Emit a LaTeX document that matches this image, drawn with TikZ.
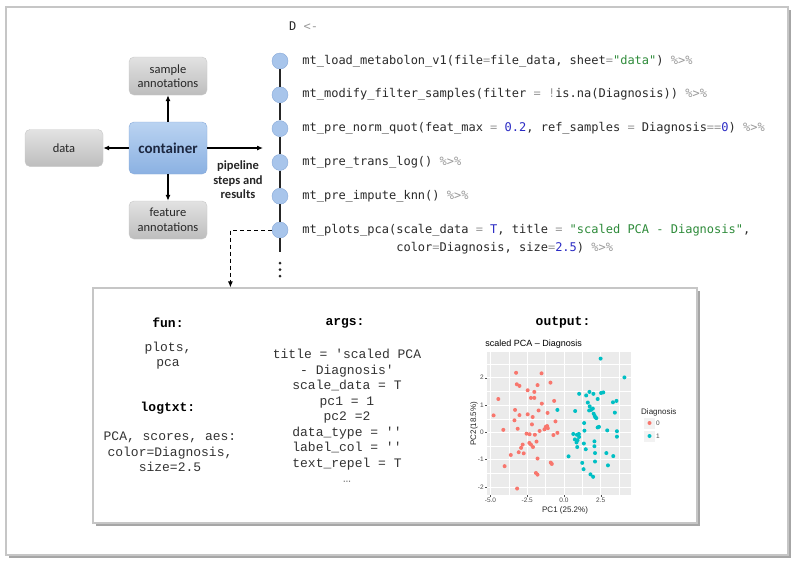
\documentclass[tikz,border=0pt]{standalone}
\usepackage{fontspec}
\setmainfont{Carlito}
\newfontfamily\codefont{DejaVu Sans Mono}
\newfontfamily\courfont{Liberation Mono}
\newfontfamily\plotfont{Liberation Sans}
\usetikzlibrary{calc,positioning,shadows,arrows.meta}

\definecolor{framegray}{HTML}{C6C6C6}
\definecolor{boxtop}{HTML}{E2E2E2}
\definecolor{boxbottom}{HTML}{BDBDBD}
\definecolor{boxrim}{HTML}{C8C8C8}
\definecolor{cttop}{HTML}{BAD3F1}
\definecolor{ctbottom}{HTML}{8BB1E2}
\definecolor{ctrim}{HTML}{88AADA}
\definecolor{ctext}{HTML}{1C2740}
\definecolor{dotfill}{HTML}{A8C5EB}
\definecolor{dotrim}{HTML}{86A8D8}
\definecolor{codetext}{HTML}{2A2A2A}
\definecolor{codegray}{HTML}{9A9A9A}
\definecolor{codegreen}{HTML}{2E8B3A}
\definecolor{codeblue}{HTML}{2B2BC4}
\definecolor{courtext}{HTML}{333333}
\definecolor{panelgray}{HTML}{EBEBEB}
\definecolor{tickgray}{HTML}{4D4D4D}
\definecolor{grpzero}{HTML}{F8766D}
\definecolor{grpone}{HTML}{00BFC4}

\newcommand{\rop}[1]{\textcolor{codegray}{#1}}
\newcommand{\rstr}[1]{\textcolor{codegreen}{#1}}
\newcommand{\rnum}[1]{\textcolor{codeblue}{#1}}
\newcommand{\rpipe}{\rop{\%>\%}}
\newcommand{\dq}{\textquotedbl}
\newcommand{\sq}{\textquotesingle}

\begin{document}
\begin{tikzpicture}[x=1pt,y=1pt]
    \tikzstyle{outerframe} = [draw=framegray,line width=1.2pt,fill=white,
    drop shadow={shadow xshift=2.5pt,shadow yshift=-2.5pt,fill=black!35,opacity=1}];
    \tikzstyle{detailbox} = [rectangle,outerframe];
    \tikzstyle{block} = [rectangle,rounded corners=5pt,draw=boxrim,top color=boxtop,
    bottom color=boxbottom,text=black!85,align=center,inner sep=1pt,
    font=\fontsize{12.5}{14.5}\selectfont,minimum width=78pt,minimum height=38pt,
    node distance=72pt];
    \tikzstyle{core} = [block,draw=ctrim,top color=cttop,bottom color=ctbottom,
    text=ctext,font=\bfseries\fontsize{15}{17}\selectfont,minimum height=52pt];
    \tikzstyle{pipearrow} = [-{Latex[length=6pt,width=5pt]},line width=1.1pt];
    \tikzstyle{dashlink} = [-{Latex[length=6pt,width=5pt]},line width=1pt,
    dash pattern=on 4pt off 3pt];
    \tikzstyle{pipetext} = [font=\bfseries\fontsize{12.5}{14.5}\selectfont,align=center,
    text=black!85];
    \tikzstyle{stepdot} = [circle,draw=dotrim,fill=dotfill,minimum size=16pt,
    inner sep=0pt,node distance=33.8pt];
    \tikzstyle{timeline} = [black!85,line width=1.1pt];
    \tikzstyle{rcode} = [font=\codefont\fontsize{12}{14}\selectfont,text=codetext,
    inner sep=0pt,text height=8.5pt,text depth=2.5pt,anchor=west];
    \tikzstyle{hdr} = [font=\courfont\bfseries\fontsize{13}{15}\selectfont,text=black];
    \tikzstyle{cour} = [font=\courfont\fontsize{13}{15.5}\selectfont,text=courtext,
    align=center];
    \tikzstyle{ticklab} = [font=\plotfont\fontsize{6.5}{7.5}\selectfont,text=tickgray,
    inner sep=1pt];
    \tikzstyle{axlab} = [font=\plotfont\fontsize{8}{9}\selectfont,text=black!85];

    \useasboundingbox (0,0) rectangle (800,-566);
    \path[outerframe] (6,-7) rectangle (788,-555);

    \node[core,name=container] at (168,-148) {container};
    \node[block,name=sampleann,above of=container] {sample\\annotations};
    \node[block,name=featureann,below of=container] {feature\\annotations};
    \node[block,name=data,left of=container,xshift=-32pt,minimum height=37pt] {data};
    \coordinate (pipein) at (263,-148);

    \path (container) edge[pipearrow] (data);
    \path (container) edge[pipearrow] (sampleann);
    \path (container) edge[pipearrow] (featureann);
    \path (container) edge[pipearrow] (pipein);
    \node[pipetext,name=pipelabel] at (238,-180) {pipeline\\steps and\\results};

    \node[stepdot,name=s1] at (280,-61) {};
    \node[stepdot,name=s2,below of=s1] {};
    \node[stepdot,name=s3,below of=s2] {};
    \node[stepdot,name=s4,below of=s3] {};
    \node[stepdot,name=s5,below of=s4] {};
    \node[stepdot,name=s6,below of=s5] {};
    \coordinate (tail) at (280,-252);

    \draw[timeline] (s1) -- (s2);
    \draw[timeline] (s2) -- (s3);
    \draw[timeline] (s3) -- (s4);
    \draw[timeline] (s4) -- (s5);
    \draw[timeline] (s5) -- (s6);
    \draw[timeline] (s6) -- (tail);
    \foreach \k in {0,1,2}
        \fill[black!85] ($(tail)+(0,-11-6.5*\k)$) circle (1.5pt);

    \node[rcode,name=assign] at (289,-27) {D \rop{<-}};
    \node[rcode,name=c1,right=14pt of s1] {mt\_load\_metabolon\_v1(file\rop{=}file\_data, sheet\rop{=}\rstr{\dq data\dq}) \rpipe};
    \node[rcode,name=c2,right=14pt of s2] {mt\_modify\_filter\_samples(filter \rop{=} \rop{!}is.na(Diagnosis)) \rpipe};
    \node[rcode,name=c3,right=14pt of s3] {mt\_pre\_norm\_quot(feat\_max \rop{=} \rnum{0.2}, ref\_samples \rop{=} Diagnosis\rop{==}\rnum{0}) \rpipe};
    \node[rcode,name=c4,right=14pt of s4] {mt\_pre\_trans\_log() \rpipe};
    \node[rcode,name=c5,right=14pt of s5] {mt\_pre\_impute\_knn() \rpipe};
    \node[rcode,name=c6,right=14pt of s6] {mt\_plots\_pca(scale\_data \rop{=} \rnum{T}, title \rop{=} \rstr{\dq scaled PCA - Diagnosis\dq},};
    \node[rcode,name=c6b,anchor=base west] at ($(c6.base west)+(0,-18)$) {\phantom{mt\_plots\_pca(}color\rop{=}Diagnosis, size\rop{=}\rnum{2.5}) \rpipe};

    \node[detailbox,name=detail,minimum width=604pt,minimum height=235pt] at (395,-405.5) {};
    \coordinate (drop) at ($(detail.north west)+(138,0)$);
    \draw[dashlink] (s6.west) -| (drop);

    \node[hdr,name=funhead] at (168,-323) {fun:};
    \node[cour,name=funbody,node distance=32.5pt,below of=funhead] {plots,\\pca};
    \node[hdr,name=loghead] at (168,-408) {logtxt:};
    \node[cour,name=logbody,node distance=44pt,below of=loghead,xshift=2pt] {PCA, scores, aes:\\color=Diagnosis,\\size=2.5};
    \node[hdr,name=argshead] at (345,-323) {args:};
    \node[cour,name=argsbody,node distance=93pt,below of=argshead,xshift=2pt] {title = \sq scaled PCA\\- Diagnosis\sq\\scale\_data = T\\pc1 = 1\\pc2 =2\\data\_type = \sq\sq\\label\_col = \sq\sq\\text\_repel = T\\\textcolor{black!50}{…}};
    \node[hdr,name=outhead] at (563,-323) {output:};

    \begin{scope}[shift={(564,-432.3)},x=14.7pt,y=27.3pt]
        \fill[panelgray] (-5.24,-2.30) rectangle (4.56,2.94);
        \foreach \gx in {-3.75,-1.25,1.25,3.75}
            \draw[white,line width=0.3pt] (\gx,-2.30) -- (\gx,2.94);
        \foreach \gy in {-1.5,-0.5,0.5,1.5,2.5}
            \draw[white,line width=0.3pt] (-5.24,\gy) -- (4.56,\gy);
        \foreach \gx/\lab [count=\i] in {-5/-5.0,-2.5/-2.5,0/0.0,2.5/2.5} {
            \draw[white,line width=0.7pt] (\gx,-2.30) -- (\gx,2.94);
            \draw[tickgray,line width=0.4pt] (\gx,-2.30) -- ++(0,-2pt);
            \node[ticklab,anchor=north,name=xtick\i] at ([yshift=-2pt]\gx,-2.30) {\lab};
        }
        \foreach \gy [count=\i] in {-2,-1,0,1,2} {
            \draw[white,line width=0.7pt] (-5.24,\gy) -- (4.56,\gy);
            \draw[tickgray,line width=0.4pt] (-5.24,\gy) -- ++(-2pt,0);
            \node[ticklab,anchor=east,name=ytick\i] at ([xshift=-2pt]-5.24,\gy) {\gy};
        }
        \foreach \px/\py in {-3.26/2.18,-1.53/2.16,-3.21/1.76,-3.03/1.70,-1.80/1.73,
            -0.92/1.82,-4.47/1.22,-2.47/1.54,-2.02/1.48,-2.25/1.26,-2.02/1.26,-0.67/1.15,
            -1.51/1.05,-4.79/0.62,-3.33/0.82,-3.03/0.63,-1.73/0.80,-1.12/0.71,-2.47/0.66,
            -2.13/0.56,-3.37/0.44,-3.15/0.13,-4.13/0.09,-2.18/0.29,-1.24/0.20,-1.15/0.23,
            -1.33/0.11,-1.66/0.05,-1.98/-0.09,-2.34/-0.07,-0.58/0.40,-0.45/-0.02,
            -0.72/-0.10,-1.87/-0.34,-2.36/-0.39,-2.25/-0.45,-2.11/-0.54,-2.81/-0.45,
            -2.92/-0.57,-3.08/-0.73,-2.74/-0.77,-3.62/-0.83,-1.80/-0.96,-0.90/-1.11,
            -0.83/-1.16,-4.04/-1.24,-1.91/-1.49,-1.80/-1.55,-3.19/-2.06,-1.10/0.15,
            -2.55/-0.05}
            \fill[grpzero] (\px,\py) circle (2pt);
        \foreach \px/\py in {2.49/2.70,4.11/2.01,1.03/1.41,1.73/1.48,1.51/1.35,2.00/1.41,
            2.52/1.44,2.67/1.46,2.29/1.22,3.33/1.10,3.57/1.15,1.62/1.09,1.75/0.95,
            1.84/0.82,1.96/0.87,1.71/0.80,0.76/0.78,-0.45/0.82,2.09/0.60,2.20/0.52,
            2.02/0.68,3.46/0.72,1.37/0.34,2.38/0.20,2.29/0.18,2.94/0.07,3.60/0.04,
            3.60/-0.16,1.39/0.06,0.63/-0.06,0.88/-0.09,1.01/-0.06,1.03/-0.17,0.74/-0.26,
            0.92/-0.29,0.85/-0.37,2.07/-0.33,1.35/-0.41,0.90/-0.54,1.48/-0.62,2.07/-0.51,
            0.31/-0.88,2.88/-0.76,3.35/-0.87,2.11/-0.76,2.11/-1.07,1.24/-1.12,1.33/-1.35,
            2.99/-1.21,1.80/-1.54,1.98/-1.63,2.13/0.55}
            \fill[grpone] (\px,\py) circle (2pt);
        \node[axlab,name=xtitle] at (0.07,-2.85) {PC1 (25.2\%)};
        \node[axlab,name=ytitle,rotate=90] at (-6.12,0.32) {PC2(18.5\%)};
        \node[font=\plotfont\fontsize{9}{10}\selectfont,anchor=west,inner sep=0pt,
            name=plottitle] at (-5.36,3.24) {scaled PCA – Diagnosis};
    \end{scope}

    \node[axlab,anchor=west,inner sep=0pt,name=legtitle] at (641,-412) {Diagnosis};
    \fill[black!5] (644,-417.5) rectangle (655,-428.5);
    \fill[black!5] (644,-430.5) rectangle (655,-441.5);
    \fill[grpzero] (649.5,-423) circle (2pt);
    \fill[grpone] (649.5,-436) circle (2pt);
    \node[ticklab,anchor=west,name=legzero] at (655,-423) {0};
    \node[ticklab,anchor=west,name=legone] at (655,-436) {1};
\end{tikzpicture}
\end{document}
